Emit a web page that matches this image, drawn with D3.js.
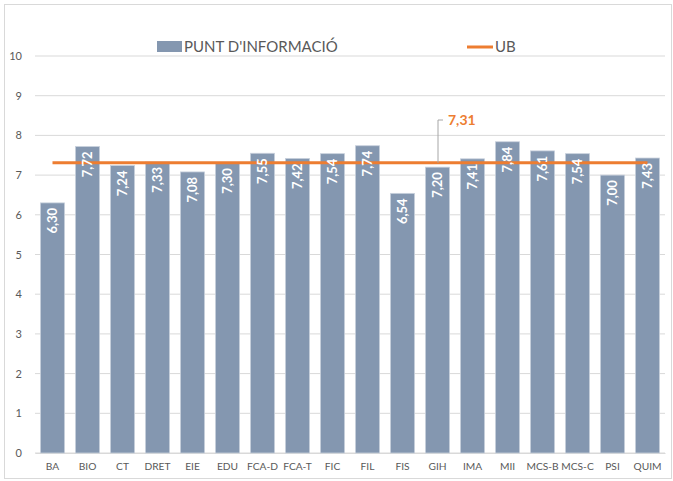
<!DOCTYPE html>
<html><head><meta charset="utf-8">
<script src="https://cdn.jsdelivr.net/npm/d3@7"></script>
<style>body{margin:0;background:#fff}svg{display:block}text{font-family:Lato,"Open Sans",sans-serif}</style>
</head><body>
<script>
const categories = ["BA","BIO","CT","DRET","EIE","EDU","FCA-D","FCA-T","FIC","FIL","FIS","GIH","IMA","MII","MCS-B","MCS-C","PSI","QUIM"];
const values = [6.30,7.72,7.24,7.33,7.08,7.30,7.55,7.42,7.54,7.74,6.54,7.20,7.41,7.84,7.61,7.54,7.00,7.43];
const ubValue = 7.31;
const yTicks = [0,1,2,3,4,5,6,7,8,9,10];
const seriesNames = ["PUNT D'INFORMACIÓ","UB"];

const W = 673, H = 481;
const svg = d3.select("body").append("svg").attr("width", W).attr("height", H);
svg.append("rect").attr("x",4.5).attr("y",4.5).attr("width",W-6).attr("height",H-7)
  .attr("fill","#fff").attr("stroke","#d9d9d9");

const x = d3.scaleBand().domain(categories).range([35, 665]).paddingInner(0.31).paddingOuter(0.155);
const y = d3.scaleLinear().domain([0,10]).range([453, 56]);
const fmt = v => d3.format(".2f")(v).replace(".", ",");

// gridlines
svg.append("g").selectAll("line").data(yTicks).join("line")
  .attr("x1",35).attr("x2",665).attr("y1",d=>y(d)).attr("y2",d=>y(d))
  .attr("stroke","#d9d9d9").attr("stroke-width",1);

// y axis labels
const yAxis = svg.append("g").attr("transform","translate(35,0)")
  .call(d3.axisLeft(y).tickValues(yTicks).tickSize(0).tickPadding(13).tickFormat(d3.format("d")));
yAxis.select(".domain").remove();
yAxis.selectAll("text").attr("fill","#595959").style("font-size","11px");

// x axis labels
const xAxis = svg.append("g").attr("transform","translate(0,453)")
  .call(d3.axisBottom(x).tickSize(0).tickPadding(10));
xAxis.select(".domain").attr("stroke","#d9d9d9");
xAxis.selectAll("text").attr("fill","#595959").style("font-size","10.2px");

// bars
const color = "#8497b0";
svg.append("g").selectAll("rect").data(values).join("rect")
  .attr("x",(d,i)=>x(categories[i])).attr("width",x.bandwidth())
  .attr("y",d=>y(d)).attr("height",d=>y(0)-y(d)).attr("fill",color)
  .attr("stroke","#c9d1dd").attr("stroke-width",0.8);

// UB line
const cx = c => x(c)+x.bandwidth()/2;
svg.append("line").attr("x1",cx(categories[0])).attr("x2",cx(categories[categories.length-1]))
  .attr("y1",y(ubValue)).attr("y2",y(ubValue)).attr("stroke","#ed7d31").attr("stroke-width",3);

// bar labels (on top of the line)
svg.append("g").selectAll("text").data(values).join("text")
  .attr("transform",(d,i)=>`translate(${x(categories[i])+x.bandwidth()/2+4.5},${y(d)+5}) rotate(-90)`)
  .attr("text-anchor","end").attr("fill","#fff").style("font-size","13px").style("font-weight","bold")
  .text(d=>fmt(d));

// annotation
const ax = 438;
svg.append("path").attr("d",`M${ax},${y(ubValue)}V120H${ax+5}`).attr("fill","none").attr("stroke","#a6a6a6");
svg.append("text").attr("x",448).attr("y",125).attr("fill","#ed7d31").style("font-weight","bold")
  .style("font-size","14px").text(fmt(ubValue));

// legend
svg.append("rect").attr("x",157).attr("y",41).attr("width",25).attr("height",11).attr("fill",color);
svg.append("text").attr("x",184).attr("y",52).attr("fill","#595959").style("font-size","15px").text(seriesNames[0]);
svg.append("line").attr("x1",467).attr("x2",493).attr("y1",47).attr("y2",47).attr("stroke","#ed7d31").attr("stroke-width",3);
svg.append("text").attr("x",495).attr("y",52).attr("fill","#595959").style("font-size","15px").text(seriesNames[1]);
</script>
</body></html>
